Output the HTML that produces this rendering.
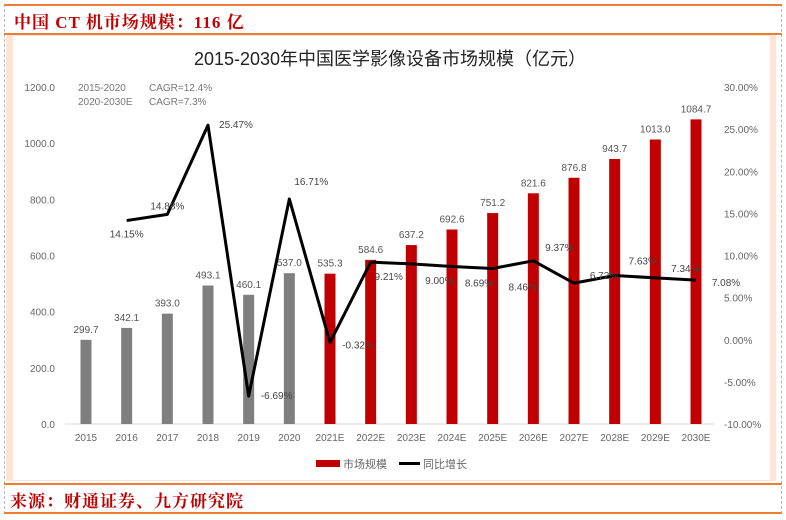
<!DOCTYPE html>
<html><head><meta charset="utf-8">
<style>
html,body{margin:0;padding:0;background:#fff;}
body{width:786px;height:520px;position:relative;overflow:hidden;font-family:"Liberation Sans","Noto Sans CJK SC",sans-serif;}
.hdr{position:absolute;font-family:"Liberation Serif","Noto Serif CJK SC",serif;color:#c00000;font-size:17px;font-weight:bold;letter-spacing:1px;}
</style></head><body>
<div style="position:absolute;left:4px;top:4px;width:776px;height:510px;border-left:1px dashed #bbb;border-right:1px dashed #bbb;"></div>
<div style="position:absolute;left:4px;top:4px;width:778px;height:2px;background:#ed7d31;"></div>
<div class="hdr" style="left:14px;top:8px;">中国 CT 机市场规模：116 亿</div>
<div style="position:absolute;left:4px;top:33px;width:778px;height:2px;background:#ed7d31;"></div>
<div style="position:absolute;left:6px;top:35px;width:770px;height:446px;background:#fce4d6;"></div>
<div style="position:absolute;left:13px;top:36px;width:757px;height:444px;background:#fff;"></div>
<div style="position:absolute;left:4px;top:483px;width:778px;height:2px;background:#ed7d31;"></div>
<div class="hdr" style="left:10px;top:487px;">来源：财通证券、九方研究院</div>
<div style="position:absolute;left:4px;top:512px;width:778px;height:2px;background:#ed7d31;"></div>
<svg id="chart" width="786" height="520" style="position:absolute;left:0;top:0;" font-family="Liberation Sans, Noto Sans CJK SC, sans-serif">
<text x="390" y="65" text-anchor="middle" font-size="18" fill="#222">2015-2030年中国医学影像设备市场规模（亿元）</text>
<text x="78" y="91" font-size="10" fill="#777">2015-2020</text>
<text x="149" y="91" font-size="10" fill="#777">CAGR=12.4%</text>
<text x="78" y="105" font-size="10" fill="#777">2020-2030E</text>
<text x="149" y="105" font-size="10" fill="#777">CAGR=7.3%</text>
</svg>
<script>
const categories=["2015","2016","2017","2018","2019","2020","2021E","2022E","2023E","2024E","2025E","2026E","2027E","2028E","2029E","2030E"];
const marketSize=[299.7,342.1,393.0,493.1,460.1,537.0,535.3,584.6,637.2,692.6,751.2,821.6,876.8,943.7,1013.0,1084.7];
const growth=[null,14.15,14.88,25.47,-6.69,16.71,-0.32,9.21,9.00,8.69,8.46,9.37,6.72,7.63,7.34,7.08];
const leftTicks=[0,200,400,600,800,1000,1200];
const rightTicks=[-10,-5,0,5,10,15,20,25,30];
const lblOff=[null,[0,17],[0,-5],[28,3],[28,3],[22,-14],[28,6],[18,18],[28,20],[27,20],[30,22],[26,-10],[30,-4],[28,-11],[30,-6],[30,6]];
const svg=document.getElementById('chart');const NS='http://www.w3.org/2000/svg';
const y0=424,y1=87;
const yL=v=>y0-(v/1200)*(y0-y1);
const yR=v=>y0-((v+10)/40)*(y0-y1);
const xC=i=>86+i*(696-86)/(categories.length-1);
function mk(t,a,p){const e=document.createElementNS(NS,t);for(const k in a)e.setAttribute(k,a[k]);(p||svg).appendChild(e);return e;}
let e;
e=mk('line',{x1:65,x2:715,y1:y0,y2:y0,stroke:'#d9d9d9','stroke-width':1});


leftTicks.forEach(v=>{e=mk('text',{x:55,y:yL(v)+4,'text-anchor':'end','font-size':10,fill:'#666'});e.textContent=v.toFixed(1);

});
rightTicks.forEach(v=>{e=mk('text',{x:724,y:yR(v)+4,'font-size':10,fill:'#666'});e.textContent=v.toFixed(2)+'%';

});
categories.forEach((c,i)=>{const x=xC(i);
e=mk('text',{x:x,y:441,'text-anchor':'middle','font-size':10,fill:'#666'});e.textContent=c;


const v=marketSize[i];
e=mk('rect',{x:x-5.5,y:yL(v),width:11,height:y0-yL(v),fill:i<6?'#7f7f7f':'#c00000'});


e=mk('text',{x:x,y:yL(v)-7,'text-anchor':'middle','font-size':10,fill:'#555'});e.textContent=v.toFixed(1);

});
let d='';growth.forEach((g,i)=>{if(g===null)return;d+=(d?'L':'M')+xC(i)+','+yR(g);});
e=mk('path',{d:d,fill:'none',stroke:'#000','stroke-width':3,'stroke-linejoin':'round'});


growth.forEach((g,i)=>{if(g===null)return;const o=lblOff[i];
e=mk('text',{x:xC(i)+o[0],y:yR(g)+o[1],'text-anchor':'middle','font-size':10,fill:'#444'});e.textContent=g.toFixed(2)+'%';

});
e=mk('rect',{x:316,y:460,width:24,height:7,fill:'#c00000'});


e=mk('text',{x:343,y:468,'font-size':11,fill:'#666'});e.textContent='市场规模';


e=mk('line',{x1:399,x2:420,y1:463.5,y2:463.5,stroke:'#000','stroke-width':3});


e=mk('text',{x:423,y:468,'font-size':11,fill:'#666'});e.textContent='同比增长';


</script>
</body></html>
